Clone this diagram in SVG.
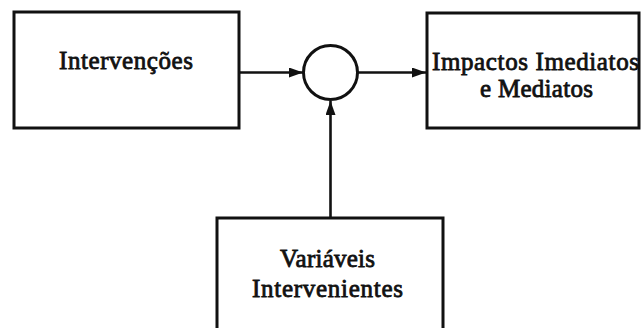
<svg xmlns="http://www.w3.org/2000/svg" width="642" height="328" viewBox="0 0 642 328">
<style>
.box{fill:none;stroke:#111;stroke-width:3}
.conn{fill:none;stroke:#111;stroke-width:2.6}
.t{font-family:"Liberation Serif","Times New Roman",serif;font-size:25px;fill:#111;stroke:#111;stroke-width:0.8}
</style>
<defs>
<marker id="ah" viewBox="0 0 14 10" refX="14" refY="5" markerWidth="14" markerHeight="10" markerUnits="userSpaceOnUse" orient="auto">
<path d="M0,0 L14,5 L0,10 Z" fill="#111"/>
</marker>
</defs>
<rect width="642" height="328" fill="#fff"/>
<g id="intervencoes">
<rect class="box" x="14" y="12" width="225" height="116"/>
<text class="t" x="59" y="69" textLength="134" lengthAdjust="spacing">Intervenções</text>
</g>
<g id="juncao">
<circle cx="330.5" cy="72.5" r="27" fill="none" stroke="#111" stroke-width="3"/>
</g>
<g id="impactos">
<rect class="box" x="427" y="13" width="212" height="115"/>
<text class="t" x="432" y="70" textLength="207" lengthAdjust="spacing">Impactos Imediatos</text>
<text class="t" x="480" y="97" textLength="113" lengthAdjust="spacing">e Mediatos</text>
</g>
<g id="variaveis">
<path class="box" d="M217,332 V218 H443 V332"/>
<text class="t" x="280" y="267" textLength="95" lengthAdjust="spacing">Variáveis</text>
<text class="t" x="252" y="297" textLength="151" lengthAdjust="spacing">Intervenientes</text>
</g>
<g id="connectors">
<line class="conn" x1="240" y1="72.5" x2="303" y2="72.5" marker-end="url(#ah)"/>
<line class="conn" x1="358" y1="72.5" x2="426" y2="72.5" marker-end="url(#ah)"/>
<line class="conn" x1="330.5" y1="218" x2="330.5" y2="101" marker-end="url(#ah)"/>
</g>
</svg>
